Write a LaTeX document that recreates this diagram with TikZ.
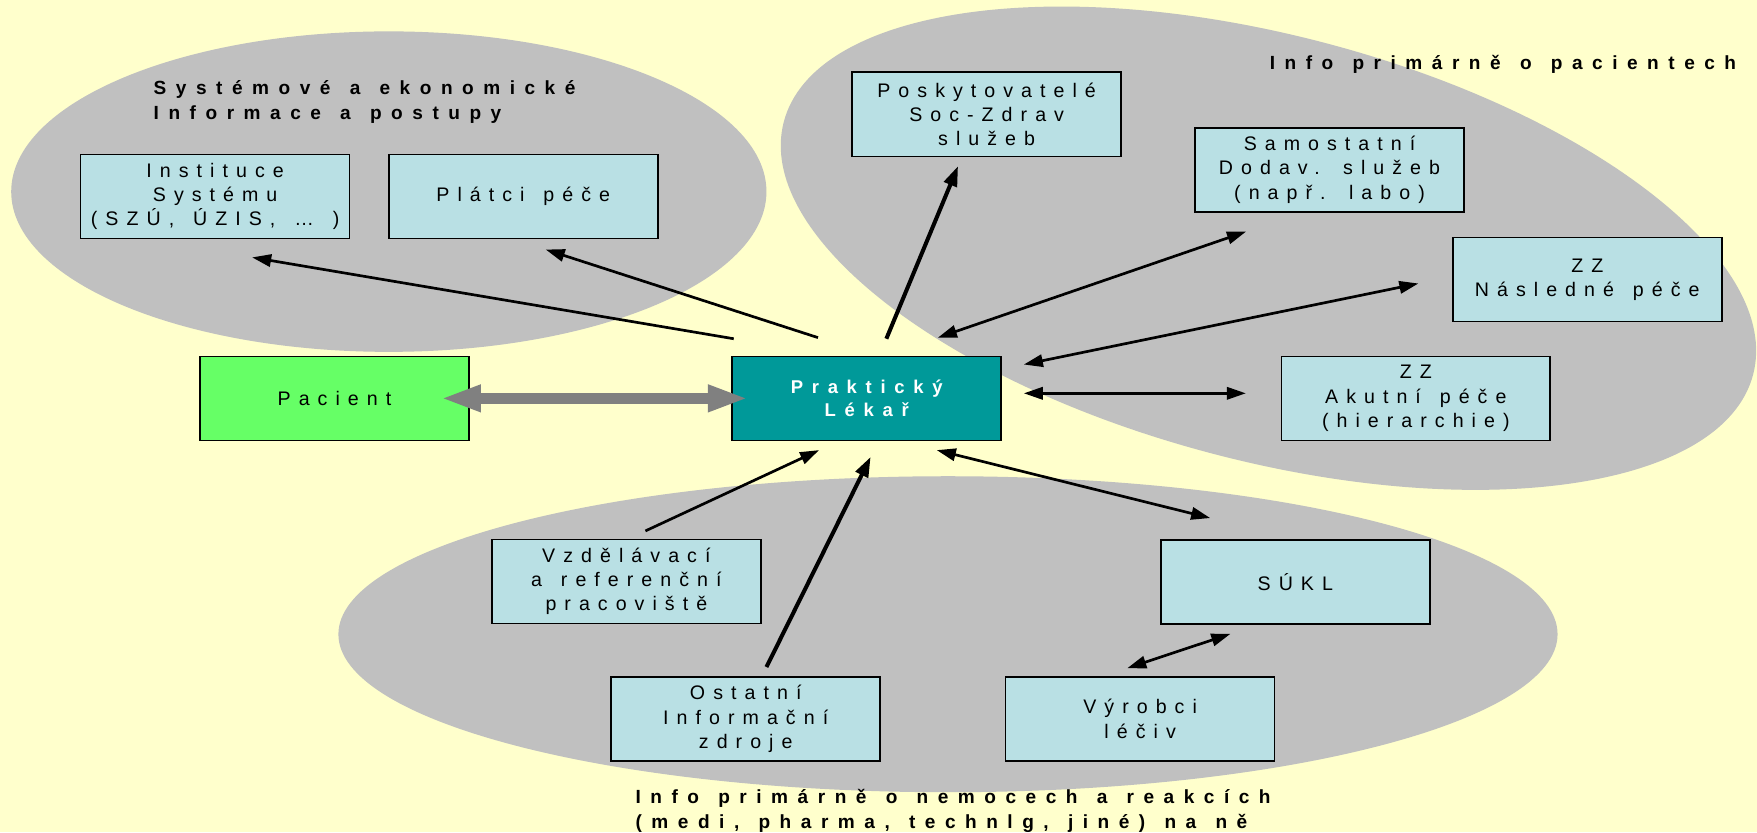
\documentclass[tikz,border=0pt]{standalone}
\usepackage{fontspec}
\setmainfont{Liberation Sans}
\newfontfamily\boxfont{Liberation Sans}[LetterSpace=41,WordSpace=1.4]
\newfontfamily\ttlfont{Liberation Sans}[LetterSpace=50,WordSpace=1.3]
\newfontfamily\plfont{Liberation Sans}[LetterSpace=47]
\usetikzlibrary{arrows.meta,calc}
\definecolor{bgyellow}{HTML}{FFFFCC}
\definecolor{ellgray}{HTML}{C0C0C0}
\definecolor{boxblue}{RGB}{185,224,228}
\definecolor{pacgreen}{HTML}{66FF66}
\definecolor{plteal}{HTML}{009999}
\definecolor{arrgray}{HTML}{808080}
\begin{document}
\begin{tikzpicture}[x=1pt,y=1pt,
  ibox/.style={draw=black, line width=1.4pt, fill=boxblue, minimum width=240pt, minimum height=75pt,
    inner sep=0pt, align=center, font={\boxfont\fontsize{17.5}{21.5}\selectfont}},
  ttl/.style={inner sep=0pt, align=left, font={\ttlfont\bfseries\fontsize{17}{22.5}\selectfont}},
  arr/.style={line width=2.4pt, -{Triangle[length=17pt,width=11pt]}},
  thickarr/.style={line width=3.6pt, -{Triangle[length=18pt,width=12pt]}},
  darr/.style={line width=2.4pt, {Triangle[length=17pt,width=11pt]}-{Triangle[length=17pt,width=11pt]}},
  garr/.style={draw=arrgray, line width=10.4pt, {Triangle[length=36pt,width=22pt]}-{Triangle[length=36pt,width=22pt]}}
]
\fill[bgyellow] (0,0) rectangle (1568,-742.5);
\useasboundingbox (0,0) rectangle (1568,-742.5);

% grey regions
\fill[ellgray] (347,-171) ellipse [x radius=337pt, y radius=143pt];
\fill[ellgray, rotate around={-14.6:(1132,-221.5)}] (1132,-221.5) ellipse [x radius=447pt, y radius=190pt];
\fill[ellgray] (846,-566) ellipse [x radius=544pt, y radius=141pt];

% boxes
\node[ibox] (inst) at (192,-175.5) {Instituce\\Systému\\(SZÚ, ÚZIS, … )};
\node[ibox] (plat) at (467,-175.5) {Plátci péče};
\node[ibox] (posk) at (880.5,-102) {Poskytovatelé\\Soc-Zdrav\\služeb};
\node[ibox] (samo) at (1186.5,-151.5) {Samostatní\\Dodav. služeb\\(např. labo)};
\node[ibox] (nasl) at (1416.5,-249.5) {ZZ\\Následné péče};
\node[ibox] (akut) at (1263.5,-355.5) {ZZ\\Akutní péče\\(hierarchie)};
\node[ibox, fill=pacgreen] (pac) at (298.5,-355.5) {Pacient};
\node[ibox, fill=plteal, text=white, font={\plfont\bfseries\fontsize{16.5}{20.5}\selectfont}] (prak) at (773.5,-355.5) {Praktický\\Lékař};
\node[ibox] (vzdel) at (559,-519) {Vzdělávací\\a referenční\\pracoviště};
\node[ibox] (sukl) at (1156,-519.5) {SÚKL};
\node[ibox] (ostat) at (665.5,-641.5) {Ostatní\\Informační\\zdroje};
\node[ibox] (vyrob) at (1017.5,-641.5) {Výrobci\\léčiv};

% titles
\node[ttl, anchor=west] (t1) at (137,-91) {Systémové a ekonomické\\Informace a postupy};
\node[ttl, anchor=west] (t2) at (1133,-57) {Info primárně o pacientech};
\node[ttl, anchor=west] (t3) at (567,-723.5) {Info primárně o nemocech a reakcích\\(medi, pharma, technlg, jiné) na ně};

% connectors
\draw[arr] ($(prak.north west)+(2,15)$) -- ($(inst.south)+(33,-16)$);
\draw[arr] ($(prak.north)+(-43.5,16)$) -- ($(plat.south)+(20,-9)$);
\draw[thickarr] ($(prak.north)+(17.5,15)$) -- ($(posk.south)+(-25.5,-8)$);
\draw[darr] ($(prak.north)+(63.5,16)$) -- ($(samo.south)+(-74.5,-17)$);
\draw[darr] ($(prak.north east)+(19.5,-8)$) -- ($(nasl.west)+(-30,-3.5)$);
\draw[darr] ($(prak.east)+(19.5,4.5)$) -- ($(akut.west)+(-31,4.5)$);
\draw[darr] ($(prak.south)+(62.5,-8)$) -- ($(sukl.north)+(-76,19)$);
\draw[arr] ($(vzdel.north)+(17,7)$) -- ($(prak.south)+(-42.5,-8)$);
\draw[thickarr] ($(ostat.north)+(18.5,8)$) -- ($(prak.south)+(3.5,-14)$);
\draw[darr] ($(sukl.south)+(-58,-8)$) -- ($(vyrob.north)+(-11.5,7)$);
\draw[garr] ($(pac.east)+(-26,0)$) -- ($(prak.west)+(15,0)$);
\end{tikzpicture}
\end{document}
